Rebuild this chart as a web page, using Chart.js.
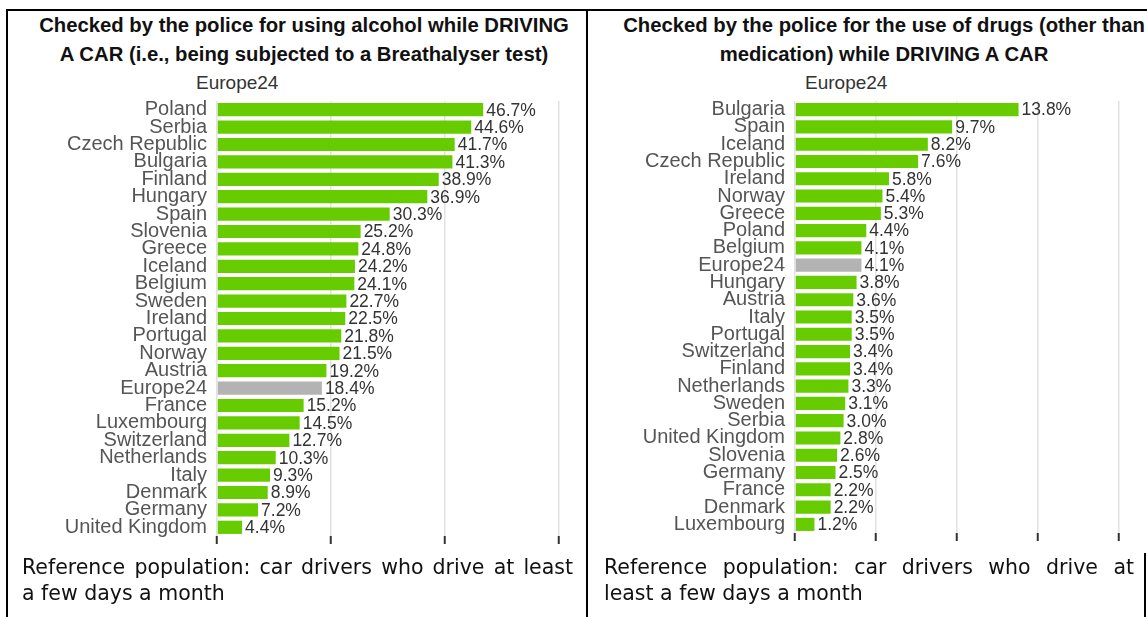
<!DOCTYPE html>
<html>
<head>
<meta charset="utf-8">
<script src="https://cdn.jsdelivr.net/npm/chart.js@4.4.1/dist/chart.umd.min.js"></script>
<style>
  html, body { margin: 0; padding: 0; background: #fff; }
  body { width: 1147px; height: 617px; position: relative; overflow: hidden; }
  .line { position: absolute; background: #000; }
  .title { position: absolute; font: bold 20.3px "Liberation Sans", Arial, sans-serif; line-height: 29px; color: #111; text-align: center; white-space: nowrap; }
  .sub { position: absolute; font: 19px "Liberation Sans", Arial, sans-serif; color: #333; line-height: 22px; }
  .note { position: absolute; font: 20.5px "DejaVu Sans", Verdana, sans-serif; line-height: 26px; color: #111; white-space: nowrap; }
  .note .j { text-align: justify; text-align-last: justify; }
  .box { position: absolute; }
</style>
</head>
<body>
<div class="line" style="left:7px; top:9px; width:1140px; height:2px;"></div>
<div class="line" style="left:6px; top:9px; width:2px; height:608px;"></div>
<div class="line" style="left:586px; top:9px; width:2px; height:608px;"></div>
<div class="line" style="left:1144px; top:553px; width:2px; height:64px;"></div>

<div class="title" style="left:4px; width:600px; top:11px;">Checked by the police for using alcohol while DRIVING<br>A CAR (i.e., being subjected to a Breathalyser test)</div>
<div class="title" style="left:584px; width:600px; top:11px;">Checked by the police for the use of drugs (other than<br>medication) while DRIVING A CAR</div>
<div class="sub" style="left:196px; top:72px;">Europe24</div>
<div class="sub" style="left:805px; top:72px;">Europe24</div>

<div class="box" style="left:8px; top:79px; width:578px; height:479px;"><canvas id="alcohol"></canvas></div>
<div class="box" style="left:588px; top:79px; width:559px; height:476px;"><canvas id="drugs"></canvas></div>

<div class="note" style="left:22px; top:554px; width:551px;">
  <div class="j">Reference population: car drivers who drive at least</div>
  <div>a few days a month</div>
</div>
<div class="note" style="left:604px; top:554px; width:530px;">
  <div class="j">Reference population: car drivers who drive at</div>
  <div>least a few days a month</div>
</div>

<script>
const alcoholCountries = ['Poland', 'Serbia', 'Czech Republic', 'Bulgaria', 'Finland', 'Hungary', 'Spain', 'Slovenia', 'Greece', 'Iceland', 'Belgium', 'Sweden', 'Ireland', 'Portugal', 'Norway', 'Austria', 'Europe24', 'France', 'Luxembourg', 'Switzerland', 'Netherlands', 'Italy', 'Denmark', 'Germany', 'United Kingdom'];
const alcoholValues = [46.7, 44.6, 41.7, 41.3, 38.9, 36.9, 30.3, 25.2, 24.8, 24.2, 24.1, 22.7, 22.5, 21.8, 21.5, 19.2, 18.4, 15.2, 14.5, 12.7, 10.3, 9.3, 8.9, 7.2, 4.4];
const alcoholTicks = [0, 20, 40, 60];

const drugCountries = ['Bulgaria', 'Spain', 'Iceland', 'Czech Republic', 'Ireland', 'Norway', 'Greece', 'Poland', 'Belgium', 'Europe24', 'Hungary', 'Austria', 'Italy', 'Portugal', 'Switzerland', 'Finland', 'Netherlands', 'Sweden', 'Serbia', 'United Kingdom', 'Slovenia', 'Germany', 'France', 'Denmark', 'Luxembourg'];
const drugValues = [13.8, 9.7, 8.2, 7.6, 5.8, 5.4, 5.3, 4.4, 4.1, 4.1, 3.8, 3.6, 3.5, 3.5, 3.4, 3.4, 3.3, 3.1, 3.0, 2.8, 2.6, 2.5, 2.2, 2.2, 1.2];
const drugTicks = [0, 5, 10, 15, 20];

const green = '#66cc00';
const grey = '#b3b3b3';

const valueLabels = {
  id: 'valueLabels',
  afterDatasetsDraw(chart) {
    const ctx = chart.ctx;
    const meta = chart.getDatasetMeta(0);
    const data = chart.data.datasets[0].data;
    ctx.save();
    ctx.font = '17.5px "Liberation Sans", Arial, sans-serif';
    ctx.fillStyle = '#333';
    ctx.textBaseline = 'middle';
    meta.data.forEach((bar, i) => {
      ctx.fillText(data[i].toFixed(1) + '%', bar.x + 3, bar.y + 1);
    });
    ctx.restore();
  }
};

function makeChart(id, labels, values, ticks, yWidth, padRight) {
  const max = ticks[ticks.length - 1];
  const step = ticks[1] - ticks[0];
  new Chart(document.getElementById(id), {
    type: 'bar',
    data: {
      labels: labels,
      datasets: [{
        data: values,
        backgroundColor: labels.map(l => l === 'Europe24' ? grey : green),
        barPercentage: 0.8,
        categoryPercentage: 0.95
      }]
    },
    options: {
      indexAxis: 'y',
      responsive: true,
      maintainAspectRatio: false,
      animation: false,
      layout: { padding: { top: 5, right: padRight, bottom: 0, left: 0 } },
      plugins: { legend: { display: false }, tooltip: { enabled: false } },
      scales: {
        x: {
          min: 0,
          max: max,
          ticks: { stepSize: step, display: false },
          grid: { color: '#e2e2e2', lineWidth: 1.5, drawTicks: true, tickLength: 8, tickColor: '#333', tickWidth: 2 },
          border: { display: false },
          afterFit: s => { s.height = 10; }
        },
        y: {
          ticks: { color: '#555', padding: 10, font: { family: '"Liberation Sans", Arial, sans-serif', size: 20 }, autoSkip: false },
          grid: { display: false, drawTicks: false },
          border: { display: false },
          afterFit: s => { s.width = yWidth; }
        }
      }
    },
    plugins: [valueLabels]
  });
}

makeChart('alcohol', alcoholCountries, alcoholValues, alcoholTicks, 209, 27);
makeChart('drugs', drugCountries, drugValues, drugTicks, 207, 28);
</script>
</body>
</html>
